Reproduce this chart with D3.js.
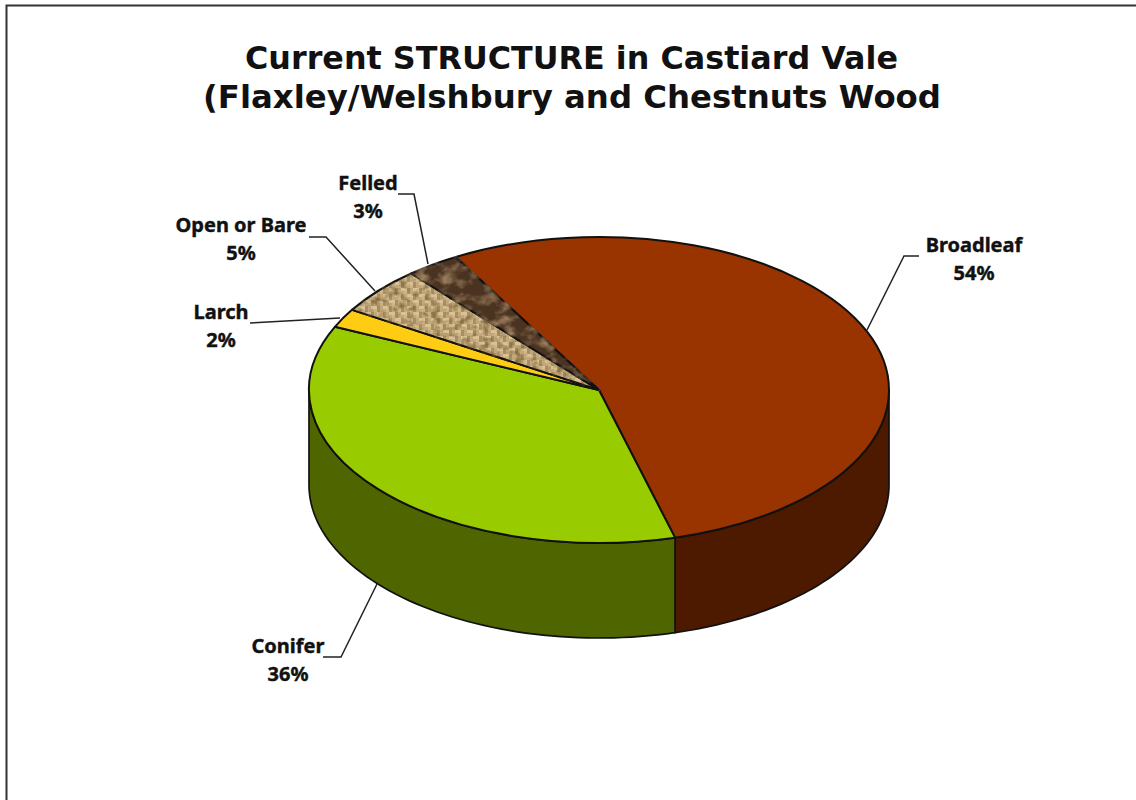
<!DOCTYPE html>
<html><head><meta charset="utf-8">
<script src="https://cdn.jsdelivr.net/npm/d3@7"></script>
<style>html,body{margin:0;padding:0;background:#fff}svg{display:block}</style>
</head><body><svg id="c" width="1136" height="800"></svg>
<script>
const categories = ["Broadleaf","Conifer","Larch","Open or Bare","Felled"];
const values = [54,36,2,5,3];
const percentLabels = ["54%","36%","2%","5%","3%"];
const topColors = ["#993300","#99CC00","#FFCC14","url(#burlap)","#4a3320"];
const sideColors = ["#4D1A00","#4F6600","#806600","#6b5a3a","#2a1c10"];
const titleLines = ["Current STRUCTURE in Castiard Vale","(Flaxley/Welshbury and Chestnuts Wood"];
const titleWidths = [653,738];
const labelAnchors = [[974,252],[288,653],[221,319],[241,232],[368,190]];
const leaders=[
 [[919,256],[904,256],[867,330]],
 [[323,657],[341,657],[377,584]],
 [[250,323],[340,318]],
 [[309,237],[326,237],[375,291]],
 [[398,194],[414,194],[428,264]]
];

const cx=599,cy=390,rx=290,ry=153,depth=95,startDeg=-29.6;
const svg=d3.select("#c");
const defs=svg.append("defs");

// bark texture: blotchy noise composited onto the wedge itself
const f=defs.append("filter").attr("id","barkF").attr("x","-2%").attr("y","-2%").attr("width","104%").attr("height","104%").attr("color-interpolation-filters","sRGB");
f.append("feTurbulence").attr("type","fractalNoise").attr("baseFrequency","0.07 0.05").attr("numOctaves",3).attr("seed",7).attr("result","n");
f.append("feColorMatrix").attr("in","n").attr("type","matrix")
 .attr("values","0 0 0 0 .62  0 0 0 0 .50  0 0 0 0 .38  2.4 0 0 0 -1.05").attr("result","m");
f.append("feComposite").attr("in","m").attr("in2","SourceGraphic").attr("operator","atop");

// burlap weave plus soft mottling
const s=3;
const b=defs.append("pattern").attr("id","burlap").attr("patternUnits","userSpaceOnUse").attr("width",s*4).attr("height",s*4)
 .attr("patternTransform",`scale(1,${rx/ry})`);
b.append("rect").attr("width",s*4).attr("height",s*4).attr("fill","#c2a779");
[[0,0,2,1,"#d9c296"],[2,2,2,1,"#d9c296"],[2,0,1,2,"#a88e62"],[0,2,1,2,"#a88e62"],[1,1,1,1,"#cdb588"],[3,3,1,1,"#cdb588"]].forEach(d=>
  b.append("rect").attr("x",d[0]*s).attr("y",d[1]*s).attr("width",d[2]*s).attr("height",d[3]*s).attr("fill",d[4]));
const g=defs.append("filter").attr("id","burlapF").attr("x","-2%").attr("y","-2%").attr("width","104%").attr("height","104%").attr("color-interpolation-filters","sRGB");
g.append("feTurbulence").attr("type","fractalNoise").attr("baseFrequency","0.12 0.08").attr("numOctaves",2).attr("seed",3).attr("result","n");
g.append("feColorMatrix").attr("in","n").attr("type","matrix")
 .attr("values","0 0 0 0 .45  0 0 0 0 .34  0 0 0 0 .18  2 0 0 0 -.95").attr("result","m");
g.append("feComposite").attr("in","m").attr("in2","SourceGraphic").attr("operator","atop");

// frame
svg.append("path").attr("d","M6.5 800V5.5H1136").attr("fill","none").attr("stroke","#333").attr("stroke-width",2);

// title
const title=svg.append("text").attr("text-anchor","middle").attr("font-family","DejaVu Sans").attr("font-weight","bold").attr("font-size",32).attr("fill","#111");
titleLines.forEach((t,i)=>title.append("tspan").attr("x",i?572:571.5).attr("y",69+i*39).attr("textLength",titleWidths[i]).attr("lengthAdjust","spacingAndGlyphs").text(t));

// pie
const pie=d3.pie().sort(null).value(d=>d).startAngle(startDeg*Math.PI/180).endAngle((startDeg+360)*Math.PI/180);
const arcs=pie(values);
const px=a=>cx+rx*Math.sin(a), py=a=>cy-ry*Math.cos(a);

// walls: only the front half (angles PI/2..3PI/2) is visible
arcs.forEach((d,i)=>{
  const a0=Math.max(d.startAngle,Math.PI/2),a1=Math.min(d.endAngle,Math.PI*1.5);
  if(a1<=a0)return;
  const p=d3.path();
  const n=d3.range(0,61).map(k=>a0+(a1-a0)*k/60);
  n.forEach((a,k)=>k?p.lineTo(px(a),py(a)):p.moveTo(px(a),py(a)));
  n.slice().reverse().forEach(a=>p.lineTo(px(a),py(a)+depth));
  p.closePath();
  svg.append("path").attr("d",p.toString()).attr("fill",sideColors[i]).attr("stroke","#111").attr("stroke-width",1.7).attr("stroke-linejoin","round");
});

// top
const arc=d3.arc().innerRadius(0).outerRadius(rx);
const filters={"Felled":"url(#barkF)","Open or Bare":"url(#burlapF)"};
svg.append("g").attr("transform",`translate(${cx},${cy}) scale(1,${ry/rx})`)
 .selectAll("path").data(arcs).join("path").attr("d",arc)
 .attr("fill",(d,i)=>topColors[i]).attr("stroke","#111").attr("stroke-width",2)
 .attr("vector-effect","non-scaling-stroke").attr("stroke-linejoin","round")
 .attr("filter",(d,i)=>filters[categories[i]]||null);

// leader lines
const line=d3.line();
svg.append("g").selectAll("path").data(leaders).join("path").attr("d",line).attr("fill","none").attr("stroke","#222").attr("stroke-width",1.5);

// labels
const lab=svg.append("g").attr("font-family","Noto Sans").attr("font-weight","bold").attr("font-size",20).attr("fill","#111").attr("text-anchor","middle");
categories.forEach((c,i)=>{
  const [x,y]=labelAnchors[i];
  const t=lab.append("text").attr("stroke","#111").attr("stroke-width",0.4);
  t.append("tspan").attr("x",x).attr("y",y).text(c);
  t.append("tspan").attr("x",x).attr("y",y+28).text(percentLabels[i]);
});
</script></body></html>
